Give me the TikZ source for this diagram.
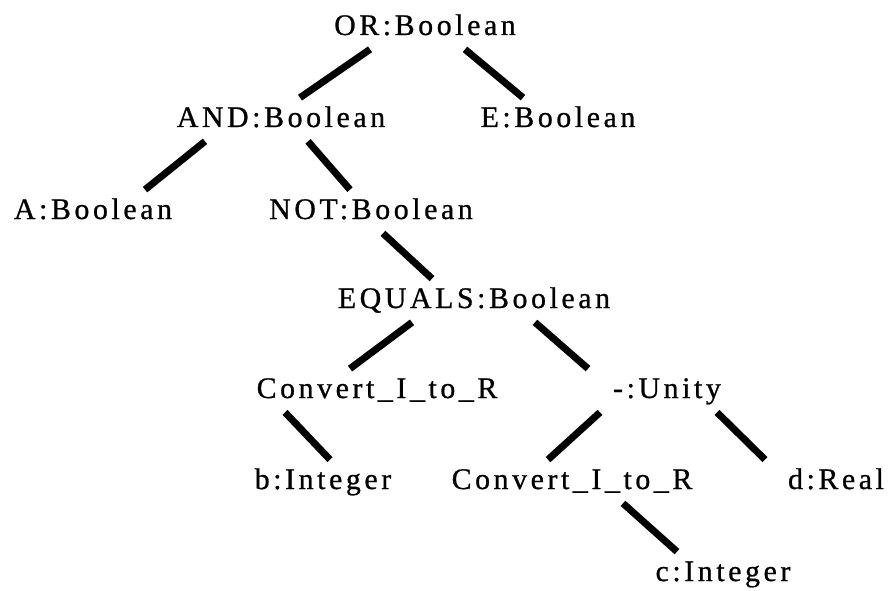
\documentclass[tikz,border=0pt]{standalone}
\usepackage{fontspec}
\setmainfont[LetterSpace=12,FakeBold=0.8]{Liberation Serif}
\tikzset{
  term/.style={anchor=base, inner sep=0pt, text height=0.58cm, text depth=0.28cm,
    font=\fontsize{17}{20}\selectfont},
  branch/.style={line width=4pt}
}
\begin{document}
\begin{tikzpicture}[x=0.02cm,y=-0.02cm]
    \useasboundingbox (0,0) rectangle (895,591);

    \node[term] (r7c1) at (425,35)  {OR:Boolean};

    \node[term] (r6c1) at (281,127) {AND:Boolean};
    \node[term] (r6c2) at (558,127) {E:Boolean};

    \node[term] (r5c1) at (93,219)  {A:Boolean};
    \node[term] (r5c2) at (371,219) {NOT:Boolean};

    \node[term] (r4c1) at (474,308) {EQUALS:Boolean};

    \node[term] (r3c1) at (377,398) {Convert\_I\_to\_R};
    \node[term] (r3c2) at (667,398) {-:Unity};

    \node[term] (r2c1) at (323,489) {b:Integer};
    \node[term] (r2c2) at (572,489) {Convert\_I\_to\_R};
    \node[term] (r2c3) at (836,489) {d:Real};

    \node[term] (r1c1) at (723,581) {c:Integer};

    \draw[branch] ([xshift=-1.10cm]r7c1.south) -- ([xshift=0.38cm]r6c1.north);
    \draw[branch] ([xshift=0.80cm]r7c1.south) -- ([xshift=-0.70cm]r6c2.north);
    \draw[branch] ([xshift=-1.52cm]r6c1.south) -- ([xshift=1.04cm]r5c1.north);
    \draw[branch] ([xshift=0.54cm]r6c1.south) -- ([xshift=-0.42cm]r5c2.north);
    \draw[branch] ([xshift=0.24cm]r5c2.south) -- ([xshift=-0.84cm]r4c1.north);
    \draw[branch] ([xshift=-1.24cm]r4c1.south) -- ([xshift=-0.54cm]r3c1.north);
    \draw[branch] ([xshift=1.22cm]r4c1.south) -- ([xshift=-1.58cm]r3c2.north);
    \draw[branch] ([xshift=-1.84cm]r3c1.south) -- ([xshift=0.14cm]r2c1.north);
    \draw[branch] ([xshift=-1.34cm]r3c2.south) -- ([xshift=-0.48cm]r2c2.north);
    \draw[branch] ([xshift=1.00cm]r3c2.south) -- ([xshift=-1.42cm]r2c3.north);
    \draw[branch] ([xshift=1.02cm]r2c2.south) -- ([xshift=-0.92cm]r1c1.north);

\end{tikzpicture}
\end{document}
